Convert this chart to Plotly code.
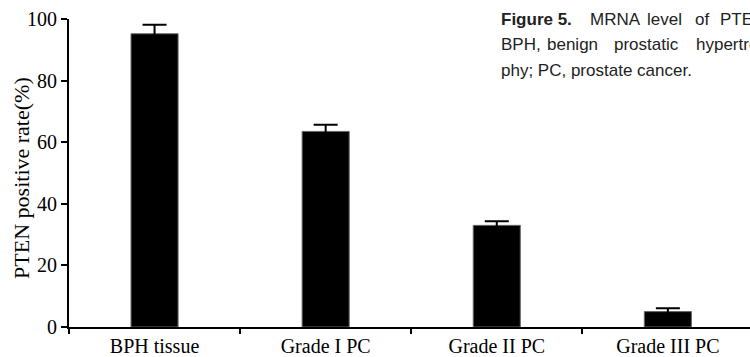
import plotly.graph_objects as go

categories = ["BPH tissue", "Grade I PC", "Grade II PC", "Grade III PC"]
values = [95.2, 63.5, 33.0, 5.0]
errors = [2.9, 2.2, 1.3, 1.1]
y_ticks = [0, 20, 40, 60, 80, 100]
y_title = "PTEN positive rate(%)"
caption_line1 = ["<b>Figure 5.</b>", "MRNA", "level", "of", "PTEN"]
caption_line2 = ["BPH,", "benign", "prostatic", "hypertro-"]
caption_line3 = "phy; PC, prostate cancer."

# pixel layout (positions only)
W, H = 750, 357
L, R, T, B = 69, 0, 19, 24
line1_x = [499, 588, 645, 693, 718]
line2_x = [499, 545, 612, 694]
line_y = [19, 45, 71]

fig = go.Figure()
fig.add_trace(go.Bar(
    x=categories, y=values, width=0.275,
    marker=dict(color="black", line=dict(color="#666666", width=1)),
    error_y=dict(type="data", array=errors, visible=True, color="black",
                 thickness=2, width=12),
))

serif = "Liberation Serif"
fig.update_layout(
    width=W, height=H,
    margin=dict(l=L, r=R, t=T, b=B),
    paper_bgcolor="white", plot_bgcolor="white",
    showlegend=False,
    xaxis=dict(
        range=[-0.5, 3.48], tickson="boundaries", ticks="outside",
        ticklen=5, tickwidth=2, tickcolor="black",
        showline=True, linecolor="black", linewidth=2,
        showgrid=False, zeroline=False,
        tickfont=dict(family=serif, size=20, color="black"),
    ),
    yaxis=dict(
        range=[0, 100], tickvals=y_ticks, ticks="outside",
        ticklen=6, tickwidth=2, tickcolor="black",
        showline=True, linecolor="black", linewidth=2,
        showgrid=False, zeroline=False,
        tickfont=dict(family=serif, size=20, color="black"),
    ),
)

pw = W - L - R
ph = H - T - B


def px_to_paper(xp, yp):
    return (xp - L) / pw, 1 - (yp - T) / ph


tx, ty = px_to_paper(22, 181)
fig.add_annotation(text=y_title, xref="paper", yref="paper", x=tx, y=ty,
                   xanchor="center", yanchor="middle", textangle=-90,
                   showarrow=False,
                   font=dict(family=serif, size=22, color="black"))

cap_font = dict(family="Liberation Sans", size=17, color="#222222")
for words, xs, yp in [(caption_line1, line1_x, line_y[0]),
                      (caption_line2, line2_x, line_y[1])]:
    for w, xp in zip(words, xs):
        px, py = px_to_paper(xp, yp)
        fig.add_annotation(text=w, xref="paper", yref="paper", x=px, y=py,
                           xanchor="left", yanchor="middle", showarrow=False,
                           font=cap_font)
px, py = px_to_paper(499, line_y[2])
fig.add_annotation(text=caption_line3, xref="paper", yref="paper", x=px, y=py,
                   xanchor="left", yanchor="middle", showarrow=False,
                   font=cap_font)

fig.write_html("out.html", config={"displayModeBar": False})

with open("out.html", "r", encoding="utf-8") as f:
    html = f.read()
html = html.replace("<head>", "<head><style>html,body{margin:0;padding:0;overflow:hidden;}</style>", 1)
with open("out.html", "w", encoding="utf-8") as f:
    f.write(html)
